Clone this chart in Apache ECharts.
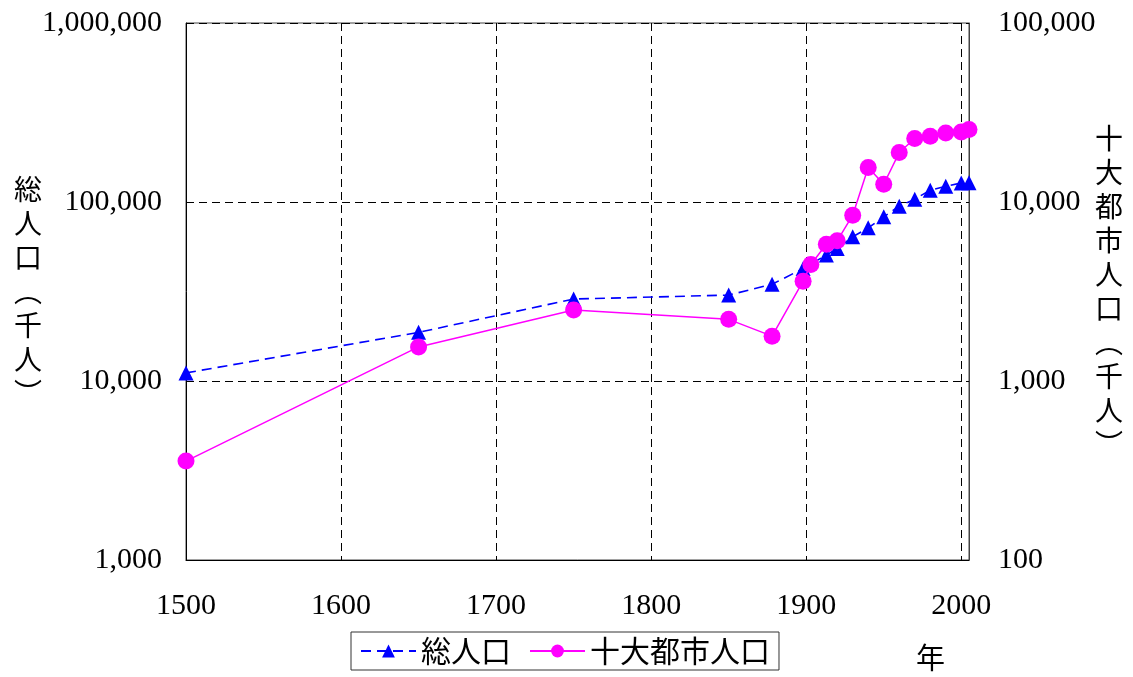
<!DOCTYPE html>
<html>
<head>
<meta charset="utf-8">
<script src="https://cdn.jsdelivr.net/npm/echarts@6/dist/echarts.min.js"></script>
<style>
html,body{margin:0;padding:0;background:#fff;}
#c{width:1133px;height:677px;}
</style>
</head>
<body>
<div id="c"></div>
<script>
const totalYears = [1500,1650,1750,1850,1878,1898,1913,1920,1930,1940,1950,1960,1970,1980,1990,2000,2005];
const totalPop   = [11100,18700,28700,30200,34700,42500,50500,55000,63900,71700,82600,94800,103700,116400,122500,127800,128000];
const cityYears  = [1500,1650,1750,1850,1878,1898,1903,1913,1920,1930,1940,1950,1960,1970,1980,1990,2000,2005];
const cityPop    = [357,1550,2490,2210,1780,3610,4480,5810,6070,8440,15590,12570,18890,22630,23300,24320,24620,25400];
const seriesNames = ['総人口','十大都市人口'];
const leftTitle = '総\n人\n口\n︵\n千\n人\n︶';
const rightTitle = '十\n大\n都\n市\n人\n口\n︵\n千\n人\n︶';
const xUnit = '年';

const serif = '"Liberation Serif","Times New Roman",serif';
const cjk = '"Noto Sans CJK JP","Noto Sans CJK SC",sans-serif';
const fmt = v => Number(v).toLocaleString('en-US');

const chart = echarts.init(document.getElementById('c'));
chart.setOption({
  animation: false,
  backgroundColor: '#fff',
  grid: { left: 186, right: 164, top: 23, bottom: 117, show: true, borderColor: '#444', borderWidth: 1, containLabel: false },
  legend: {
    left: 351, top: 632,
    padding: [4, 9, 4, 9],
    itemGap: 18,
    itemWidth: 55, itemHeight: 16,
    borderColor: '#333', borderWidth: 1,
    textStyle: { fontFamily: cjk, fontSize: 30, color: '#000' },
    data: seriesNames
  },
  xAxis: {
    type: 'value', min: 1500, max: 2005, interval: 100,
    axisLine: { show: true, lineStyle: { color: '#000', width: 1 } },
    axisTick: { show: false },
    axisLabel: { fontFamily: serif, fontSize: 30, color: '#000', margin: 31,
      formatter: v => (v % 100 === 0 ? String(v) : '') , showMaxLabel: false },
    splitLine: { show: true, lineStyle: { color: '#000', type: [8, 5], width: 1 } }
  },
  yAxis: [
    {
      type: 'log', logBase: 10, min: 1000, max: 1000000,
      name: leftTitle, nameLocation: 'middle', nameRotate: 0, nameGap: 144, nameMoveOverlap: false,
      nameTextStyle: { fontFamily: cjk, fontSize: 28, lineHeight: 34, color: '#000' },
      axisLine: { show: true, lineStyle: { color: '#000', width: 1 } },
      axisTick: { show: false },
      axisLabel: { fontFamily: serif, fontSize: 30, color: '#000', margin: 24, formatter: fmt },
      splitLine: { show: true, lineStyle: { color: '#000', type: [8, 5], width: 1 } }
    },
    {
      type: 'log', logBase: 10, min: 100, max: 100000,
      name: rightTitle, nameLocation: 'middle', nameRotate: 0, nameGap: 126, nameMoveOverlap: false,
      nameTextStyle: { fontFamily: cjk, fontSize: 28, lineHeight: 34, color: '#000' },
      axisLine: { show: true, lineStyle: { color: '#444', width: 1 } },
      axisTick: { show: false },
      axisLabel: { fontFamily: serif, fontSize: 30, color: '#000', margin: 29, formatter: fmt },
      splitLine: { show: false }
    }
  ],
  graphic: [
    { type: 'text', left: 916, top: 643, style: { text: xUnit, font: '29px ' + cjk, fill: '#000' } }
  ],
  series: [
    {
      name: seriesNames[0], type: 'line', yAxisIndex: 0,
      data: totalYears.map((y, i) => [y, totalPop[i]]),
      symbol: 'triangle', symbolSize: 15,
      itemStyle: { color: '#0000FF' },
      lineStyle: { color: '#0000FF', width: 1.6, type: [10, 6] },
      z: 2
    },
    {
      name: seriesNames[1], type: 'line', yAxisIndex: 1,
      data: cityYears.map((y, i) => [y, cityPop[i]]),
      symbol: 'circle', symbolSize: 17,
      itemStyle: { color: '#FF00FF' },
      lineStyle: { color: '#FF00FF', width: 1.5 },
      z: 3
    }
  ]
});
</script>
</body>
</html>
